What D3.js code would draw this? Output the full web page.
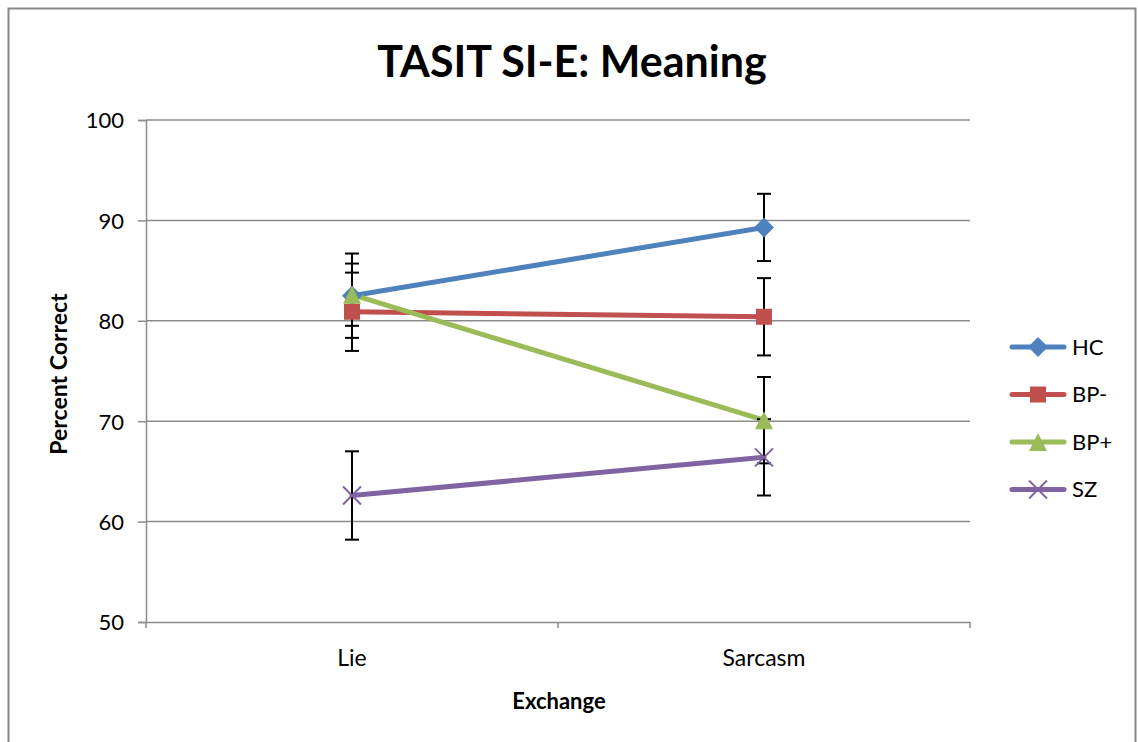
<!DOCTYPE html>
<html>
<head>
<meta charset="utf-8">
<script src="https://cdn.jsdelivr.net/npm/d3@7"></script>
<style>
  body { margin: 0; background: #fff; }
  text { font-family: Lato, "Open Sans", sans-serif; fill: #000; }
</style>
</head>
<body>
<div id="chart"></div>
<script>
const categories = ["Lie", "Sarcasm"]
const seriesNames = ["HC", "BP-", "BP+", "SZ"]
const seriesColors = ["#4F81BD", "#C0504D", "#9BBB59", "#8064A2"]
const hcValues = [82.5, 89.3]
const hcErrors = [4.2, 3.35]
const bpMinusValues = [80.9, 80.4]
const bpMinusErrors = [3.9, 3.85]
const bpPlusValues = [82.6, 70.1]
const bpPlusErrors = [3.1, 4.3]
const szValues = [62.6, 66.4]
const szErrors = [4.4, 3.8]
const yTicks = [50, 60, 70, 80, 90, 100]

const series = [
  { name: seriesNames[0], color: seriesColors[0], symbol: "diamond", values: hcValues, errors: hcErrors },
  { name: seriesNames[1], color: seriesColors[1], symbol: "square", values: bpMinusValues, errors: bpMinusErrors },
  { name: seriesNames[2], color: seriesColors[2], symbol: "triangle", values: bpPlusValues, errors: bpPlusErrors },
  { name: seriesNames[3], color: seriesColors[3], symbol: "x", values: szValues, errors: szErrors }
]

const width = 1138
const height = 742
const plot = { left: 146, right: 970, top: 120, bottom: 622 }

const svg = d3.select("#chart").append("svg")
  .attr("width", width)
  .attr("height", height)

// outer chart frame
svg.append("rect")
  .attr("x", 8.5).attr("y", 8.5)
  .attr("width", 1127).attr("height", 760)
  .attr("fill", "none")
  .attr("stroke", "#878787")
  .attr("stroke-width", 2)

const x = d3.scaleBand().domain(categories).range([plot.left, plot.right])
const y = d3.scaleLinear().domain([50, 100]).range([plot.bottom, plot.top])
const cx = d => x(d) + x.bandwidth() / 2

// gridlines
svg.append("g")
  .selectAll("line")
  .data(yTicks.slice(1))
  .join("line")
    .attr("x1", plot.left).attr("x2", plot.right)
    .attr("y1", d => y(d)).attr("y2", d => y(d))
    .attr("stroke", "#8c8c8c")
    .attr("stroke-width", 1.5)

// y axis
const yAxis = svg.append("g")
  .attr("transform", `translate(${plot.left},0)`)
  .call(d3.axisLeft(y).tickValues(yTicks).tickSize(8).tickPadding(14))
yAxis.select(".domain").attr("stroke", "#8c8c8c").attr("stroke-width", 1.5)
yAxis.selectAll(".tick line").attr("stroke", "#8c8c8c").attr("stroke-width", 1.5)
yAxis.selectAll(".tick text").style("font-size", "22px").attr("dy", "0.36em")

// x axis, ticks sit on band edges
const xAxis = svg.append("g")
  .attr("transform", `translate(0,${plot.bottom})`)
  .call(d3.axisBottom(x).tickSize(0).tickPadding(28))
xAxis.select(".domain").attr("stroke", "#8c8c8c").attr("stroke-width", 1.5)
xAxis.selectAll(".tick text").style("font-size", "23px")
svg.append("g")
  .selectAll("line")
  .data([plot.left, x("Sarcasm"), plot.right])
  .join("line")
    .attr("x1", d => d).attr("x2", d => d)
    .attr("y1", plot.bottom).attr("y2", plot.bottom + 6)
    .attr("stroke", "#8c8c8c")
    .attr("stroke-width", 1.5)

// series lines
const line = d3.line().x((d, i) => cx(categories[i])).y(d => y(d))
svg.append("g")
  .selectAll("path")
  .data(series)
  .join("path")
    .attr("d", d => line(d.values))
    .attr("fill", "none")
    .attr("stroke", d => d.color)
    .attr("stroke-width", 5)
    .attr("stroke-linecap", "round")

// error bars
series.forEach(s => {
  const g = svg.append("g").attr("stroke", "#000").attr("stroke-width", 2)
  s.values.forEach((v, i) => {
    const px = cx(categories[i])
    const hi = y(v + s.errors[i])
    const lo = y(v - s.errors[i])
    g.append("line").attr("x1", px).attr("x2", px).attr("y1", hi).attr("y2", lo)
    g.append("line").attr("x1", px - 7).attr("x2", px + 7).attr("y1", hi).attr("y2", hi)
    g.append("line").attr("x1", px - 7).attr("x2", px + 7).attr("y1", lo).attr("y2", lo)
  })
})

function drawMarker(g, s, px, py) {
  if (s.symbol === "diamond") {
    g.append("path").attr("d", `M${px},${py - 10}L${px + 10},${py}L${px},${py + 10}L${px - 10},${py}Z`)
      .attr("fill", s.color)
  } else if (s.symbol === "square") {
    g.append("rect").attr("x", px - 8).attr("y", py - 8).attr("width", 16).attr("height", 16)
      .attr("fill", s.color)
  } else if (s.symbol === "triangle") {
    g.append("path").attr("d", `M${px},${py - 9}L${px + 9},${py + 9}L${px - 9},${py + 9}Z`)
      .attr("fill", s.color)
  } else {
    g.append("path").attr("d", `M${px - 9},${py - 9}L${px + 9},${py + 9}M${px - 9},${py + 9}L${px + 9},${py - 9}`)
      .attr("stroke", s.color).attr("stroke-width", 2).attr("fill", "none")
  }
}

// markers
series.forEach(s => {
  const g = svg.append("g")
  s.values.forEach((v, i) => drawMarker(g, s, cx(categories[i]), y(v)))
})

// legend
const legend = svg.append("g")
series.forEach((s, i) => {
  const ly = 347 + i * 47.5
  const g = legend.append("g")
  g.append("line")
    .attr("x1", 1012).attr("x2", 1064).attr("y1", ly).attr("y2", ly)
    .attr("stroke", s.color).attr("stroke-width", 5).attr("stroke-linecap", "round")
  drawMarker(g, s, 1038, ly)
  g.append("text")
    .attr("x", 1072).attr("y", ly).attr("dy", "0.36em")
    .style("font-size", "22px")
    .text(s.name)
})

// titles
svg.append("text")
  .attr("x", 572).attr("y", 77)
  .attr("text-anchor", "middle")
  .style("font-size", "43px").style("font-weight", "bold")
  .text("TASIT SI-E: Meaning")

svg.append("text")
  .attr("transform", "translate(67,374) rotate(-90)")
  .attr("text-anchor", "middle")
  .style("font-size", "23px").style("font-weight", "bold")
  .text("Percent Correct")

svg.append("text")
  .attr("x", 559).attr("y", 709)
  .attr("text-anchor", "middle")
  .style("font-size", "22px").style("font-weight", "bold")
  .text("Exchange")
</script>
</body>
</html>
